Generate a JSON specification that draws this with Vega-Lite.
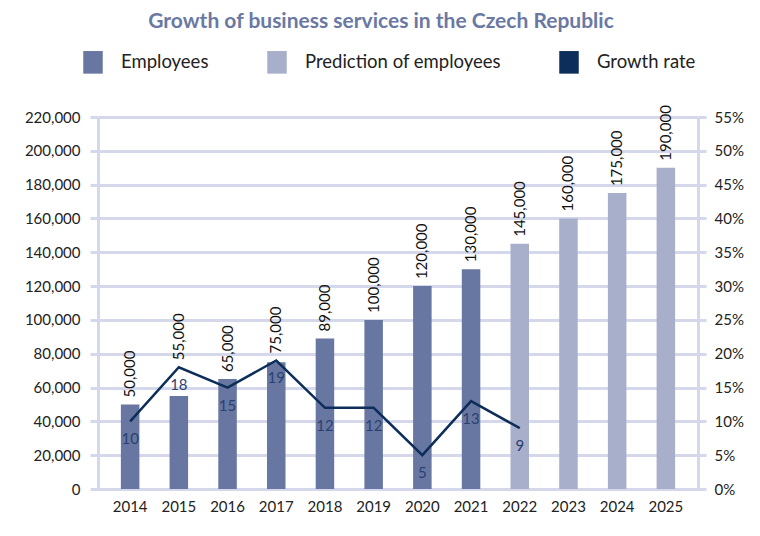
{
  "$schema": "https://vega.github.io/schema/vega-lite/v6.json",
  "width": 600,
  "height": 372,
  "autosize": "none",
  "padding": {"left": 98, "top": 117, "right": 62, "bottom": 47},
  "background": "white",
  "title": {
    "text": "Growth of business services in the Czech Republic",
    "anchor": "middle",
    "frame": "group",
    "dx": -17,
    "offset": 20,
    "font": "Lato",
    "fontSize": 21,
    "fontWeight": "bold",
    "color": "#6a79a3"
  },
  "config": {
    "font": "Lato",
    "view": {"stroke": null},
    "axis": {
      "labelFont": "Lato",
      "labelFontSize": 15,
      "labelColor": "#222222"
    }
  },
  "data": {
    "values": [
      {"year": "2014", "employees": 50000, "type": "Employees", "growth": 0.10, "growthLabel": "10"},
      {"year": "2015", "employees": 55000, "type": "Employees", "growth": 0.18, "growthLabel": "18"},
      {"year": "2016", "employees": 65000, "type": "Employees", "growth": 0.15, "growthLabel": "15"},
      {"year": "2017", "employees": 75000, "type": "Employees", "growth": 0.19, "growthLabel": "19"},
      {"year": "2018", "employees": 89000, "type": "Employees", "growth": 0.12, "growthLabel": "12"},
      {"year": "2019", "employees": 100000, "type": "Employees", "growth": 0.12, "growthLabel": "12"},
      {"year": "2020", "employees": 120000, "type": "Employees", "growth": 0.05, "growthLabel": "5"},
      {"year": "2021", "employees": 130000, "type": "Employees", "growth": 0.13, "growthLabel": "13"},
      {"year": "2022", "employees": 145000, "type": "Prediction of employees", "growth": 0.09, "growthLabel": "9"},
      {"year": "2023", "employees": 160000, "type": "Prediction of employees", "growth": null, "growthLabel": null},
      {"year": "2024", "employees": 175000, "type": "Prediction of employees", "growth": null, "growthLabel": null},
      {"year": "2025", "employees": 190000, "type": "Prediction of employees", "growth": null, "growthLabel": null}
    ]
  },
  "encoding": {
    "x": {
      "field": "year",
      "type": "ordinal",
      "scale": {"paddingInner": 0.62, "paddingOuter": 0.47},
      "axis": {
        "title": null,
        "labelAngle": 0,
        "ticks": false,
        "domain": false,
        "grid": false,
        "labelPadding": 10,
        "labelBaseline": "top"
      }
    }
  },
  "layer": [
    {
      "layer": [
        {
          "mark": {"type": "bar"},
          "encoding": {
            "y": {
              "field": "employees",
              "type": "quantitative",
              "scale": {"domain": [0, 220000], "nice": false},
              "axis": {
                "title": null,
                "values": [0, 20000, 40000, 60000, 80000, 100000, 120000, 140000, 160000, 180000, 200000, 220000],
                "format": ",d",
                "grid": true,
                "gridColor": "#d5d8ea",
                "gridWidth": 3,
                "domainColor": "#d5d8ea",
                "domainWidth": 3,
                "tickColor": "#d5d8ea",
                "tickWidth": 3,
                "tickSize": 8,
                "labelPadding": 10
              }
            },
            "color": {
              "field": "type",
              "type": "nominal",
              "scale": {
                "domain": ["Employees", "Prediction of employees", "Growth rate"],
                "range": ["#6877a1", "#a8afcb", "#0d2e5a"]
              },
              "legend": {
                "title": null,
                "orient": "none",
                "legendX": -15,
                "legendY": -65,
                "direction": "horizontal",
                "columns": 3,
                "padding": 0,
                "symbolType": "M-1,-1.16H1V1.16H-1Z",
                "symbolSize": 380,
                "symbolStrokeWidth": 0,
                "symbolOpacity": 1,
                "labelFont": "Lato",
                "labelFontSize": 18.5,
                "labelColor": "#222222",
                "labelOffset": 18,
                "labelLimit": 400,
                "columnPadding": 58
              }
            }
          }
        },
        {
          "transform": [{"calculate": "max(datum.employees, (datum.growth || 0) * 400000)", "as": "labelAnchor"}],
          "mark": {"type": "text", "angle": 270, "align": "left", "baseline": "middle", "dx": 7, "fontSize": 15, "color": "#111111"},
          "encoding": {
            "y": {
              "field": "labelAnchor",
              "type": "quantitative",
              "scale": {"domain": [0, 220000], "nice": false},
              "axis": {
                "title": null,
                "values": [0, 20000, 40000, 60000, 80000, 100000, 120000, 140000, 160000, 180000, 200000, 220000],
                "format": ",d",
                "grid": true,
                "gridColor": "#d5d8ea",
                "gridWidth": 3,
                "domainColor": "#d5d8ea",
                "domainWidth": 3,
                "tickColor": "#d5d8ea",
                "tickWidth": 3,
                "tickSize": 8,
                "labelPadding": 10
              }
            },
            "text": {"field": "employees", "type": "quantitative", "format": ",d"}
          }
        }
      ]
    },
    {
      "transform": [{"filter": "datum.growth != null"}],
      "encoding": {
        "y": {
          "field": "growth",
          "type": "quantitative",
          "scale": {"domain": [0, 0.55], "nice": false},
          "axis": {
            "title": null,
            "orient": "right",
            "values": [0, 0.05, 0.1, 0.15, 0.2, 0.25, 0.3, 0.35, 0.4, 0.45, 0.5, 0.55],
            "format": ".0%",
            "grid": false,
            "domainColor": "#d5d8ea",
            "domainWidth": 3,
            "tickColor": "#d5d8ea",
            "tickWidth": 3,
            "tickSize": 8,
            "labelPadding": 8
          }
        }
      },
      "layer": [
        {
          "mark": {"type": "line", "strokeWidth": 2.5},
          "encoding": {
            "color": {"datum": "Growth rate"}
          }
        },
        {
          "mark": {"type": "text", "baseline": "middle", "align": "center", "dy": 18, "fontSize": 15, "color": "#2a4170"},
          "encoding": {
            "text": {"field": "growthLabel", "type": "nominal"}
          }
        }
      ]
    }
  ],
  "resolve": {"scale": {"y": "independent"}}
}
